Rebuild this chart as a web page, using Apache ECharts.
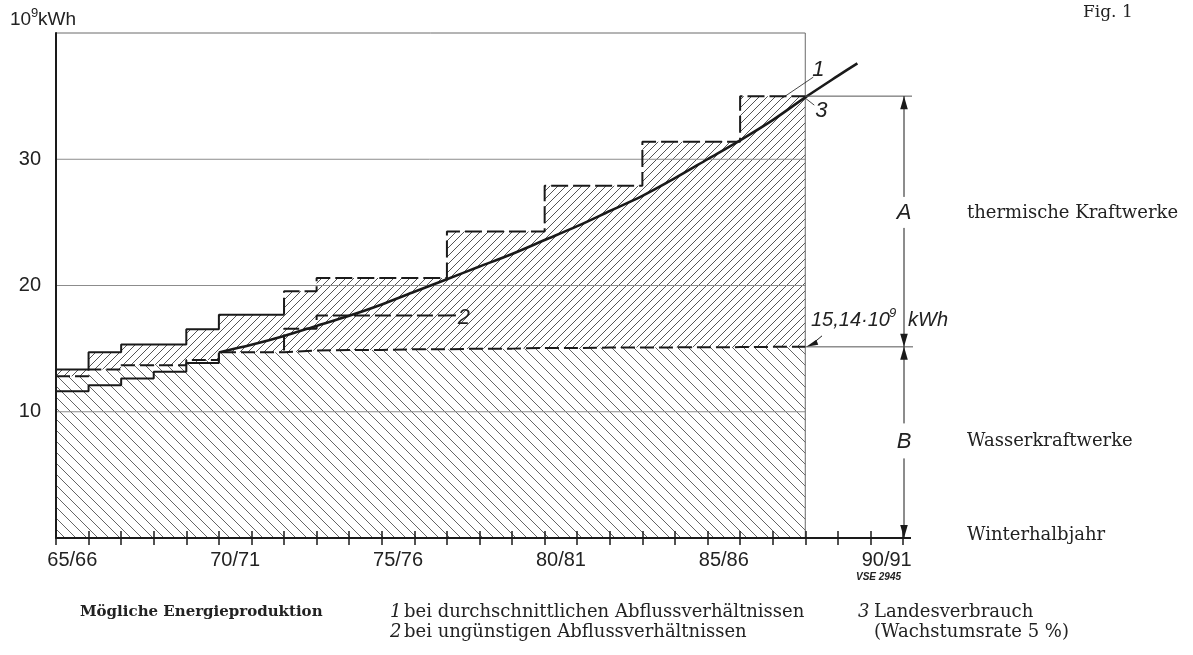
<!DOCTYPE html>
<html><head><meta charset="utf-8">
<script src="https://cdn.jsdelivr.net/npm/echarts@6/dist/echarts.min.js"></script>
<style>html,body{margin:0;padding:0;background:#fff}#c{width:1193px;height:655px}</style>
</head><body><div id="c"></div>
<script>
// ---------- data ----------
const categories = ['65/66','66/67','67/68','68/69','69/70','70/71','71/72','72/73','73/74','74/75','75/76','76/77','77/78','78/79','79/80','80/81','81/82','82/83','83/84','84/85','85/86','86/87','87/88','88/89','89/90','90/91'];
const labelledCategories = ['65/66','70/71','75/76','80/81','85/86','90/91'];
const yTicks = [10, 20, 30];
// 1: possible production, average flow (per winter half-year, 65/66 .. 87/88)
const production1 = [13.35,14.72,15.33,15.33,16.53,17.69,17.69,19.55,20.6,20.6,20.6,20.6,24.27,24.27,24.27,27.9,27.9,27.9,31.39,31.39,31.39,35.0,35.0];
const production1SolidCount = 7;
// hydro production (boundary between B and A)
const hydroProduction = [12.82,13.35,13.69,13.69,14.1,14.72,14.72,14.85,14.9,14.9,14.95,14.95,15.0,15.0,15.05,15.05,15.08,15.08,15.1,15.1,15.12,15.14,15.14];
// 2: possible production, unfavourable flow (from 72/73)
const production2Start = 7;
const production2 = [16.58,17.63,17.63,17.63,17.63];
// 3: consumption, past values and 5 % growth curve
const consumptionPast = [11.63,12.1,12.63,13.16,13.87];
const consumptionCurveX = [5,6,7,8,9,10,11,12,13,14,15,16,17,18,19,20,21,22,23,24,24.6];
const consumptionCurveY = [14.7,15.3,16.0,16.8,17.6,18.5,19.5,20.5,21.5,22.5,23.6,24.7,25.9,27.1,28.5,30.0,31.5,33.1,34.9,36.6,37.6];
const hydroLimit = 15.14;
const demandMark = 35;
const yMax = 40;

// ---------- helpers ----------
function stepPts(vals, start) {
  const p = vals.map((v, i) => [start + i, v]);
  p.push([start + vals.length, vals[vals.length - 1]]);
  return p;
}
function hatch(w, h, dir, bg, lw) {
  const c = document.createElement('canvas');
  c.width = w; c.height = h;
  const g = c.getContext('2d');
  if (bg) { g.fillStyle = bg; g.fillRect(0, 0, w, h); }
  g.strokeStyle = '#555555'; g.lineWidth = lw;
  for (let k = -2; k <= 2; k++) {
    g.beginPath();
    if (dir === '/') { g.moveTo(-w + k * w, 2 * h); g.lineTo(2 * w + k * w, -h); }
    else { g.moveTo(-w + k * w, -h); g.lineTo(2 * w + k * w, 2 * h); }
    g.stroke();
  }
  return c;
}
const nFrame = production1.length;
const ink = '#1a1a1a';

const p1 = stepPts(production1, 0);
const hyd = stepPts(hydroProduction, 0);
const p1Solid = stepPts(production1.slice(0, production1SolidCount), 0);
const p1Dashed = [[production1SolidCount, production1[production1SolidCount - 1]]].concat(stepPts(production1.slice(production1SolidCount), production1SolidCount));
const p2 = [[production2Start, hydroProduction[production2Start]]].concat(stepPts(production2, production2Start));
const past = stepPts(consumptionPast, 0);
past.push([consumptionPast.length, consumptionCurveY[0]]);
const curve = consumptionCurveX.map((x, i) => [x, consumptionCurveY[i]]);

const base = {type: 'line', xAxisIndex: 1, yAxisIndex: 0, showSymbol: false, symbol: 'none', silent: true};
const series = [
  Object.assign({}, base, {name: 'A', data: p1, step: 'end', z: 1, lineStyle: {width: 0}, areaStyle: {color: {image: hatch(8, 8, '/', null, 1), repeat: 'repeat'}, opacity: 1}}),
  Object.assign({}, base, {name: 'B', data: hyd, step: 'end', z: 2, lineStyle: {width: 0}, areaStyle: {color: {image: hatch(11, 11, '\\', '#ffffff', 0.9), repeat: 'repeat'}, opacity: 1}}),
];
yTicks.forEach(t => series.push(Object.assign({}, base, {data: [[-0.25, t], [nFrame, t]], clip: false, z: 3, lineStyle: {color: '#8c8c8c', width: 1}})));
series.push(Object.assign({}, base, {data: [[0, yMax], [nFrame, yMax], [nFrame, 0]], clip: false, z: 3, lineStyle: {color: '#6a6a6a', width: 1}}));
series.push(Object.assign({}, base, {data: hyd, step: 'end', z: 6, lineStyle: {color: ink, width: 2, type: [14, 5]}}));
series.push(Object.assign({}, base, {data: p2, step: 'end', z: 6, lineStyle: {color: ink, width: 2, type: [16, 5]}}));
series.push(Object.assign({}, base, {data: p1Solid, step: 'end', z: 7, lineStyle: {color: ink, width: 2}}));
series.push(Object.assign({}, base, {data: p1Dashed, step: 'end', z: 7, lineStyle: {color: ink, width: 2, type: [17, 5]}}));
series.push(Object.assign({}, base, {data: past, step: 'end', z: 7, lineStyle: {color: ink, width: 2}}));
series.push(Object.assign({}, base, {data: curve, smooth: 0.3, clip: false, z: 8, lineStyle: {color: ink, width: 2.6}}));

const chart = echarts.init(document.getElementById('c'), null, {renderer: 'canvas'});
chart.setOption({
  animation: false,
  backgroundColor: '#ffffff',
  grid: {left: 56, right: 290, top: 33, bottom: 117, containLabel: false},
  xAxis: [
    {type: 'category', data: categories, boundaryGap: true, position: 'bottom', z: 10,
     axisLine: {show: true, lineStyle: {color: ink, width: 2}},
     axisTick: {show: true, interval: 0, length: 7, lineStyle: {color: ink, width: 1.5}},
     axisLabel: {interval: (i, v) => labelledCategories.includes(v), margin: 12, fontSize: 20, color: '#222', fontFamily: 'Liberation Sans'},
     splitLine: {show: false}},
    {type: 'value', min: 0, max: categories.length, interval: 1, position: 'bottom', z: 10,
     axisLine: {show: false}, axisTick: {show: true, inside: true, length: 7, lineStyle: {color: ink, width: 1.5}},
     axisLabel: {show: false}, splitLine: {show: false}}
  ],
  yAxis: {type: 'value', min: 0, max: yMax, interval: 10, z: 10,
    axisLine: {show: true, lineStyle: {color: ink, width: 2}}, axisTick: {show: false},
    axisLabel: {formatter: v => yTicks.includes(v) ? String(v) : '', fontSize: 20, margin: 15, color: '#222', fontFamily: 'Liberation Sans'},
    splitLine: {show: false}},
  series: series
});

// ---------- annotations (positions from the chart's own scales) ----------
const px = (x, y) => chart.convertToPixel({seriesIndex: 0}, [x, y]);
const xEnd = px(categories.length, 0)[0] + 1;
const xFrame = px(nFrame, 0)[0];
const y35 = px(0, demandMark)[1];
const yH = px(0, hydroLimit)[1];
const y0 = px(0, 0)[1];
const yA = px(0, 25.75)[1];
const yB = px(0, 7.65)[1];
const G = [];
const line = (x1, y1, x2, y2, w, c) => G.push({type: 'line', silent: true, z: 20, shape: {x1, y1, x2, y2}, style: {stroke: c || ink, lineWidth: w || 1}});
const arrow = (x, y, dir) => { const s = dir === 'up' ? 1 : -1; G.push({type: 'polygon', silent: true, z: 21, shape: {points: [[x, y], [x - 3.8, y + s * 13], [x + 3.8, y + s * 13]]}, style: {fill: ink}}); };
const text = (t, x, y, font, align, fill) => G.push({type: 'text', silent: true, z: 22, x, y, style: {text: t, font, fill: fill || '#222', textAlign: align || 'left', textVerticalAlign: 'middle'}});

// dimension lines
line(xFrame, y35, xEnd + 8, y35, 1, '#555');
line(xFrame, yH, xEnd + 9, yH, 1, '#555');
line(xEnd - 1, y0, xEnd + 7, y0, 2);
line(xEnd, y35, xEnd, yA - 16, 1); arrow(xEnd, y35, 'up');
line(xEnd, yA + 15, xEnd, yH, 1); arrow(xEnd, yH, 'down');
line(xEnd, yH, xEnd, yB - 18, 1); arrow(xEnd, yH, 'up');
line(xEnd, yB + 17, xEnd, y0, 1); arrow(xEnd, y0, 'down');
text('A', xEnd, yA, 'italic 22px "Liberation Sans"', 'center');
text('B', xEnd, yB, 'italic 22px "Liberation Sans"', 'center');
// 15,14 label
text('15,14·10', 811, 320, 'italic 20px "Liberation Sans"');
text('9', 889, 313, 'italic 13px "Liberation Sans"');
text('kWh', 908, 320, 'italic 20px "Liberation Sans"');
line(822, yH - 11, xFrame + 6, yH - 2, 1);
G.push({type: 'polygon', silent: true, z: 21, shape: {points: [[xFrame + 1, yH], [xFrame + 11, yH - 7], [xFrame + 13, yH - 2]]}, style: {fill: ink}});
// series labels
const pEnd1 = px(nFrame, demandMark);
text('1', pEnd1[0] + 13, pEnd1[1] - 26, 'italic 22px "Liberation Sans"', 'center');
line(pEnd1[0] - 23, pEnd1[1] + 2, pEnd1[0] + 8, pEnd1[1] - 19, 0.8);
text('3', pEnd1[0] + 16, pEnd1[1] + 15, 'italic 22px "Liberation Sans"', 'center');
line(pEnd1[0], pEnd1[1] + 2, pEnd1[0] + 9, pEnd1[1] + 9, 0.8);
const pEnd2 = px(production2Start + production2.length, production2[production2.length - 1]);
line(pEnd2[0], pEnd2[1], pEnd2[0] + 9, pEnd2[1], 2);
text('2', pEnd2[0] + 17, pEnd2[1] + 2, 'italic 22px "Liberation Sans"', 'center');
// axis unit and figure number
text('10', 10, 20, '19px "Liberation Sans"');
text('9', 31, 13, '13px "Liberation Sans"');
text('kWh', 38, 20, '19px "Liberation Sans"');
text('Fig. 1', 1083, 13, '17px "DejaVu Serif"');
text('VSE 2945', 856, 577, 'italic bold 10px "Liberation Sans"');
// right-hand texts
text('thermische Kraftwerke', 967, yA, '18px "DejaVu Serif"');
text('Wasserkraftwerke', 967, yB, '18px "DejaVu Serif"');
text('Winterhalbjahr', 967, y0 - 3, '18px "DejaVu Serif"');
// bottom legend
text('Mögliche Energieproduktion', 80, 612, 'bold 15px "DejaVu Serif"');
text('1', 390, 612, 'italic 18px "DejaVu Serif"');
text('bei durchschnittlichen Abflussverhältnissen', 404, 612, '18px "DejaVu Serif"');
text('2', 390, 632, 'italic 18px "DejaVu Serif"');
text('bei ungünstigen Abflussverhältnissen', 404, 632, '18px "DejaVu Serif"');
text('3', 858, 612, 'italic 18px "DejaVu Serif"');
text('Landesverbrauch', 874, 612, '18px "DejaVu Serif"');
text('(Wachstumsrate 5 %)', 874, 632, '18px "DejaVu Serif"');
chart.setOption({graphic: G});
</script></body></html>
